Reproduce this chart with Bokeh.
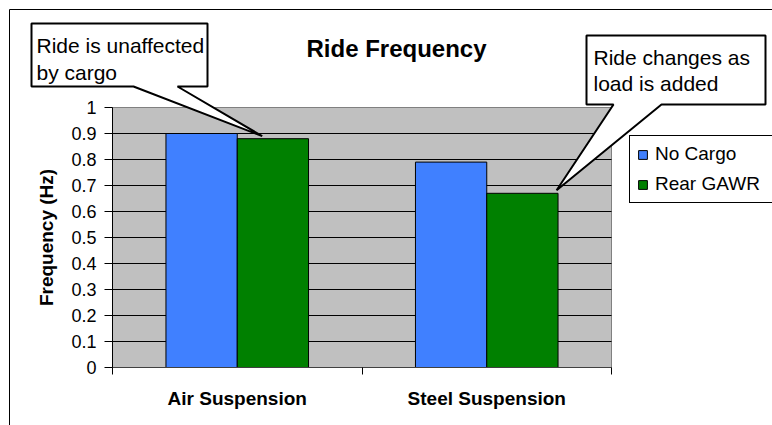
from bokeh.plotting import figure
from bokeh.models import (Range1d, FixedTicker, Label, PolyAnnotation, Legend,
                          LegendItem, ColumnDataSource, BoxAnnotation)
from bokeh.embed import file_html
from bokeh.resources import INLINE

# ---------------- data ----------------
categories = ["Air Suspension", "Steel Suspension"]
series_names = ["No Cargo", "Rear GAWR"]
no_cargo = [0.90, 0.79]
rear_gawr = [0.88, 0.67]
y_ticks = [0, 0.1, 0.2, 0.3, 0.4, 0.5, 0.6, 0.7, 0.8, 0.9, 1]
y_tick_labels = ["0", "0.1", "0.2", "0.3", "0.4", "0.5", "0.6", "0.7", "0.8", "0.9", "1"]
title_text = "Ride Frequency"
y_label = "Frequency (Hz)"
callout1_lines = ["Ride is unaffected", "by cargo"]
callout2_lines = ["Ride changes as", "load is added"]

# ---------------- layout (canvas pixels) ----------------
FONT = "Liberation Sans"
W, H = 772, 425
PLOT_L, PLOT_R, PLOT_T, PLOT_B = 112, 611, 107, 367
ncat = len(categories)
y_min, y_max = 0, 1
ppx = (PLOT_R - PLOT_L) / ncat            # pixels per x unit
ppy = (PLOT_B - PLOT_T) / (y_max - y_min)  # pixels per y unit

x_range = Range1d(-PLOT_L / ppx, (W - PLOT_L) / ppx)
y_range = Range1d(y_min - (H - PLOT_B) / ppy, y_min + PLOT_B / ppy)


def sx(px):
    return px


def sy(py):
    return H - py


p = figure(width=W, height=H, output_backend="svg", toolbar_location=None,
           title=None, x_range=x_range, y_range=y_range,
           min_border=0, min_border_left=0, min_border_right=0,
           min_border_top=0, min_border_bottom=0,
           background_fill_color="white", border_fill_color="white",
           outline_line_color=None)

# plot area (gray)
p.add_layout(BoxAnnotation(left=0, right=ncat, bottom=y_min, top=y_max,
                           fill_color="#C0C0C0", fill_alpha=1,
                           line_color="#808080", line_alpha=1, line_width=1,
                           level="image", editable=False))

# horizontal gridlines across the plot area only
grid_vals = y_ticks[1:-1]
p.segment(x0=[0] * len(grid_vals), x1=[ncat] * len(grid_vals),
          y0=grid_vals, y1=grid_vals, line_color="black", line_width=1)

bar_w = 1 / 3.5
centers = [i + 0.5 for i in range(ncat)]
src = ColumnDataSource(dict(
    x1=[c - bar_w / 2 for c in centers],
    x2=[c + bar_w / 2 for c in centers],
    nc=no_cargo, rg=rear_gawr))
r1 = p.vbar(x="x1", top="nc", width=bar_w, source=src,
            fill_color="#4080FF", line_color="black", line_width=1)
r2 = p.vbar(x="x2", top="rg", width=bar_w, source=src,
            fill_color="#008000", line_color="black", line_width=1)

# x axis
xa = p.xaxis[0]
xa.fixed_location = y_min
xa.bounds = (0, ncat)
xa.ticker = FixedTicker(ticks=centers, minor_ticks=list(range(ncat + 1)))
xa.major_label_overrides = {c: n for c, n in zip(centers, categories)}
xa.major_tick_line_color = None
xa.major_tick_in = 0
xa.major_tick_out = 0
xa.minor_tick_in = 0
xa.minor_tick_out = 7
xa.minor_tick_line_color = "black"
xa.axis_line_color = "#404040"
xa.major_label_standoff = 13
xa.major_label_text_font = FONT
xa.major_label_text_font_size = "19px"
xa.major_label_text_font_style = "bold"
xa.major_label_text_color = "black"
p.xgrid.visible = False
p.ygrid.visible = False

# y axis
ya = p.yaxis[0]
ya.fixed_location = 0
ya.bounds = (y_min, y_max)
ya.ticker = FixedTicker(ticks=y_ticks)
ya.major_label_overrides = {t: l for t, l in zip(y_ticks, y_tick_labels)}
ya.major_tick_in = 0
ya.major_tick_out = 8
ya.minor_tick_line_color = None
ya.major_tick_line_color = "black"
ya.axis_line_color = "black"
ya.major_label_standoff = 8
ya.major_label_text_font = FONT
ya.major_label_text_font_size = "18px"
ya.major_label_text_color = "black"
ya.axis_label = y_label
ya.axis_label_text_font = FONT
ya.axis_label_text_font_size = "19px"
ya.axis_label_text_font_style = "bold"
ya.axis_label_text_color = "black"
ya.axis_label_standoff = 11

# outer chart border
p.add_layout(PolyAnnotation(xs=[sx(9), sx(2000), sx(2000), sx(9)],
                            ys=[sy(9), sy(9), sy(2000), sy(2000)],
                            xs_units="screen", ys_units="screen",
                            fill_alpha=0, line_color="black", line_alpha=1,
                            line_width=1, editable=False))

# title
p.add_layout(Label(x=sx(396), y=sy(48), x_units="screen", y_units="screen",
                   text=title_text, text_font=FONT, text_font_size="24px",
                   text_font_style="bold", text_align="center",
                   text_baseline="alphabetic", text_color="black"))

# legend (its right side runs past the canvas edge, as in the original)
legend = Legend(items=[LegendItem(label=series_names[0], renderers=[r1]),
                       LegendItem(label=series_names[1], renderers=[r2])],
                location=(sx(629), sy(203)), margin=0, padding=7, spacing=8,
                glyph_width=11, glyph_height=11, label_standoff=7,
                label_width=125, label_height=22,
                label_text_font=FONT, label_text_font_size="19px",
                label_text_color="black",
                border_line_color="black", border_line_width=1,
                border_line_alpha=1,
                background_fill_color="white", background_fill_alpha=1)
p.add_layout(legend)


# callouts
def callout(box, base, tip, lines, text_x, baselines):
    x0, y0, x1, y1 = box
    b1, b2 = base
    tx, ty = tip
    xs = [sx(x0), sx(x1), sx(x1), sx(b2), tx, sx(b1), sx(x0)]
    ys = [sy(y0), sy(y0), sy(y1), sy(y1), ty, sy(y1), sy(y1)]
    p.add_layout(PolyAnnotation(xs=xs, ys=ys, xs_units="screen", ys_units="screen",
                                fill_color="white", fill_alpha=1,
                                line_color="black", line_alpha=1, line_width=2,
                                editable=False))
    for line, bl in zip(lines, baselines):
        p.add_layout(Label(x=sx(text_x), y=sy(bl), x_units="screen", y_units="screen",
                           text=line, text_font=FONT, text_font_size="21px",
                           text_align="left", text_baseline="alphabetic",
                           text_color="black"))


def tip_of(cat_idx, val, dx, dy):
    # pixel position of a point near a bar's top, derived from the data scale
    px = PLOT_L + (cat_idx + 0.5 + dx) * ppx
    py = PLOT_B - (val + dy - y_min) * ppy
    return (sx(px), sy(py))


callout((31, 23, 207, 86), (133, 177), tip_of(0, rear_gawr[0], 0.10, 0.01),
        callout1_lines, 36, (45, 72))
callout((586, 35, 765, 104), (613, 661), tip_of(1, rear_gawr[1], 0.28, 0.012),
        callout2_lines, 593, (57, 83))

open("out.html", "w").write(file_html(p, INLINE))
